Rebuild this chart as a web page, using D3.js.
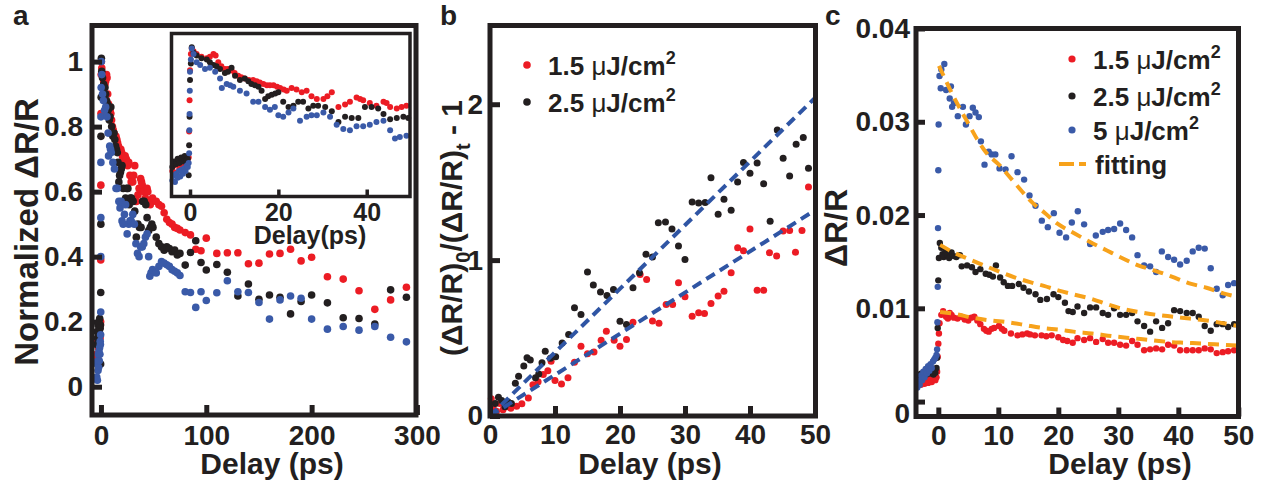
<!DOCTYPE html>
<html>
<head>
<meta charset="utf-8">
<script src="https://cdn.jsdelivr.net/npm/d3@7"></script>
<style>
  body { margin: 0; background: #fff; }
  svg text { font-family: "Liberation Sans", Arial, Helvetica, sans-serif; font-weight: bold; fill: #231f20; }
</style>
</head>
<body>
<svg id="chart" width="1263" height="485"></svg>
<script>
// ---- panel a : normalized dR/R vs delay (same data shown in the inset up to 50 ps)
const aRed = [[-4.0,0.1],[-3.6,0.14],[-3.2,0.09],[-2.8,0.15],[-2.4,0.12],[-2.0,0.17],[-1.6,0.13],[-1.2,0.18],[-0.8,0.15],[-0.5,0.19],[-0.3,0.2],
  [-0.2,0.39],[-0.1,0.62],[0.0,0.84],[0.2,0.96],
  [0.4,1.0],[0.8,0.98],[1.5,0.96],[2.6,0.94],[3.8,0.93],[4.5,0.94],[5.3,0.96],[5.8,0.95],[6.4,0.9],[7.1,0.87],[7.9,0.85],[8.6,0.85],[9.4,0.84],[10.1,0.82],
  [10.9,0.8],[11.6,0.79],[12.4,0.78],[13.3,0.77],[14.3,0.77],[15.1,0.76],[15.8,0.75],[16.6,0.74],[17.4,0.73],[18.1,0.73],[18.9,0.73],[19.7,0.72],[20.4,0.71],
  [21.2,0.7],[21.9,0.69],[23.0,0.71],[24.1,0.7],[25.3,0.68],[26.4,0.69],[27.5,0.65],[28.7,0.63],[30.2,0.63],[31.1,0.65],[32.1,0.68],[33.6,0.57],[35.1,0.59],
  [36.2,0.61],[37.7,0.64],[38.5,0.63],[39.2,0.62],[40.7,0.6],[42.2,0.58],[43.8,0.61],[44.5,0.6],[45.3,0.57],[46.8,0.56],[47.9,0.57],[49.0,0.58],
  [52.5,0.57],[55,0.56],[57.5,0.555],[60,0.535],[62.5,0.515],[65,0.505],[67.5,0.5],[70,0.49],[72.5,0.487],[75,0.482],[80,0.474],[85,0.467],[90,0.423],
  [95,0.418],[100,0.457],[110,0.41],[120,0.412],[130,0.412],[140,0.378],[150,0.38],[160,0.408],[170,0.41],[180,0.423],[190,0.387],[200,0.398],
  [215,0.338],[230,0.331],[245,0.295],[260,0.238],[275,0.267],[290,0.306]]
const aBlack = [[-4.0,0.13],[-3.6,0.17],[-3.2,0.15],[-2.8,0.19],[-2.4,0.16],[-2.0,0.2],[-1.6,0.17],[-1.2,0.21],[-0.8,0.18],[-0.5,0.19],[-0.3,0.07],
  [-0.2,0.29],[-0.1,0.5],[0.0,0.77],[0.2,0.89],
  [0.4,1.01],[0.8,0.97],[1.5,0.95],[2.6,0.93],[3.8,0.92],[4.5,0.9],[5.3,0.88],[6.0,0.87],[6.8,0.85],[7.9,0.82],[8.6,0.83],[9.4,0.86],[10.2,0.8],[11.3,0.77],
  [12.4,0.78],[13.2,0.76],[13.9,0.74],[14.7,0.73],[15.5,0.72],[16.2,0.69],[17.0,0.63],[17.7,0.65],[18.5,0.66],[19.3,0.67],[20.0,0.68],[21.1,0.61],[22.3,0.57],
  [23.4,0.58],[24.5,0.61],[25.6,0.61],[26.8,0.56],[27.9,0.58],[29.0,0.58],[30.6,0.57],[32.1,0.54],[33.6,0.46],[35.1,0.5],[36.6,0.49],[38.1,0.49],[39.6,0.57],
  [41.1,0.57],[42.6,0.56],[43.8,0.52],[45.3,0.48],[46.8,0.49],[48.3,0.5],[49.4,0.49],
  [52.5,0.46],[55,0.44],[57.5,0.43],[60,0.42],[62.5,0.43],[65,0.425],[67.5,0.415],[70,0.42],[72.5,0.405],[75,0.41],[80,0.374],[85,0.413],[90,0.449],
  [95,0.382],[100,0.359],[110,0.376],[120,0.352],[130,0.279],[140,0.316],[150,0.269],[160,0.282],[170,0.275],[180,0.224],[190,0.262],[200,0.282],
  [215,0.258],[230,0.212],[245,0.21],[260,0.193],[275,0.298],[290,0.275]]
const aBlue = [[-4.0,0.03],[-3.7,0.07],[-3.4,0.02],[-3.1,0.08],[-2.8,0.05],[-2.5,0.1],[-2.2,0.06],[-1.9,0.11],[-1.6,0.08],[-1.3,0.12],[-1.0,0.1],[-0.7,0.14],
  [-0.5,0.13],[-0.3,0.16],[-0.2,0.23],[-0.15,0.4],[-0.1,0.52],[-0.05,0.69],[0.0,0.83],[0.2,0.92],
  [0.4,1.0],[0.8,0.96],[1.5,0.9],[2.3,0.88],[3.4,0.85],[4.5,0.86],[5.7,0.83],[6.8,0.78],[7.2,0.71],[8.3,0.74],[9.1,0.73],[9.8,0.72],[11.3,0.69],[12.8,0.67],
  [14.3,0.61],[15.5,0.61],[17.0,0.57],[18.1,0.55],[19.2,0.57],[20.0,0.51],[21.1,0.5],[22.3,0.53],[23.4,0.56],[24.9,0.47],[26.4,0.5],[27.5,0.51],[28.7,0.51],
  [30.2,0.53],[31.7,0.5],[33.2,0.44],[34.7,0.41],[36.2,0.4],[37.7,0.43],[39.2,0.43],[40.7,0.44],[42.2,0.46],[43.8,0.47],[45.3,0.4],[46.4,0.34],[47.5,0.35],
  [49.0,0.36],
  [52.5,0.35],[55,0.37],[57.5,0.385],[60,0.38],[62.5,0.375],[65,0.37],[67.5,0.36],[70,0.355],[72.5,0.35],[75,0.342],[80,0.292],[85,0.29],[90,0.244],
  [95,0.292],[100,0.265],[110,0.289],[120,0.326],[130,0.292],[140,0.29],[150,0.259],[160,0.208],[170,0.267],[180,0.279],[190,0.272],[200,0.208],
  [215,0.177],[230,0.185],[245,0.174],[260,0.185],[275,0.152],[290,0.138]]
const aXTicks = [0, 100, 200, 300]
const aYTicks = [0, 0.2, 0.4, 0.6, 0.8, 1]
const insetXTicks = [0, 20, 40]

// ---- panel b : (dR/R)0/(dR/R)t - 1
const bRed = [[0.2,0.11],[0.5,0.05],[1.0,0.03],[1.5,0.08],[2.0,0.04],[2.6,0.06],[3.2,0.05],[4.1,0.062],[4.9,0.079],[5.9,0.116],[6.6,0.2],[7.4,0.22],
  [8.2,0.266],[8.9,0.29],[9.4,0.351],[10.0,0.227],[11.0,0.206],[12.0,0.245],[13.0,0.345],[14.0,0.448],[15.0,0.4],[16.0,0.41],[17.1,0.486],[17.9,0.544],
  [19.1,0.486],[20.0,0.448],[21.0,0.49],[22.0,0.602],[23.1,0.908],[24.1,0.876],[25.0,0.61],[26.0,0.595],[27.1,0.715],[28.1,0.715],[29.0,0.855],[30.0,0.765],
  [31.1,0.64],[32.1,0.662],[33.0,0.657],[34.0,0.722],[35.1,0.77],[36.0,0.8],[37.1,0.919],[38.1,1.08],[39.0,1.06],[40.0,1.2],[41.1,0.807],[42.1,0.807],
  [43.0,1.047],[44.1,1.026],[45.1,1.186],[46.1,1.19],[47.0,1.05],[48.0,1.19],[49.0,1.469]]
const bBlack = [[0.3,0.02],[0.8,0.08],[1.3,0.12],[1.8,0.1],[2.3,0.06],[2.8,0.09],[3.3,0.08],[3.9,0.21],[4.4,0.255],[5.2,0.32],[5.7,0.373],[6.2,0.36],
  [7.0,0.245],[7.5,0.27],[8.0,0.341],[8.5,0.416],[9.3,0.37],[10.1,0.38],[11.1,0.469],[12.1,0.523],[13.0,0.694],[14.0,0.651],[15.0,0.923],[15.9,0.84],
  [17.0,0.795],[18.0,0.773],[19.0,0.812],[20.0,0.608],[21.0,0.587],[22.0,0.823],[23.0,0.919],[24.0,1.037],[25.0,1.02],[25.9,1.24],[27.0,1.245],[28.0,1.2],
  [29.0,1.09],[30.0,1.004],[31.1,1.372],[32.1,1.366],[33.1,1.37],[34.0,1.529],[35.1,1.294],[36.0,1.39],[37.1,1.32],[38.1,1.501],[39.0,1.626],[40.0,1.557],
  [41.1,1.623],[42.1,1.49],[43.1,1.25],[44.2,1.835],[45.1,1.653],[46.1,1.54],[47.1,1.743],[48.2,1.787],[49.0,1.589]]
const bFitRed = [[0, 0], [50, 1.32]]
const bFitBlack = [[0, 0], [50, 2.04]]
const bXTicks = [0, 10, 20, 30, 40, 50]
const bYTicks = [0, 1, 2]

// ---- panel c : raw dR/R for three fluences, with fits
const cRed = [[-3.5,0.0017],[-3.2,0.002],[-2.9,0.0018],[-2.6,0.0022],[-2.3,0.0019],[-2.0,0.0023],[-1.7,0.002],[-1.4,0.0024],[-1.1,0.0021],[-0.8,0.0025],
  [-0.5,0.0023],[-0.3,0.0026],[-0.2,0.0032],[-0.1,0.0048],[0.0,0.0062],[0.1,0.0073],[0.2,0.0084],
  [0.5,0.0093],[0.8,0.0097],[1.0,0.0094],[1.3,0.0091],[1.6,0.0089],[1.9,0.0095],[2.2,0.0093],[2.6,0.009],[3.2,0.0089],[3.8,0.0091],[4.4,0.0088],[5.0,0.0087],
  [5.5,0.009],[6.0,0.0091],[6.5,0.0087],[7.0,0.0083],[7.6,0.0078],[8.0,0.0076],[8.4,0.0075],[8.9,0.0078],[9.3,0.0079],[10.1,0.0081],[10.6,0.0078],[11.0,0.0076],
  [12.1,0.0073],[13.2,0.0071],[14.0,0.0072],[14.8,0.0073],[15.3,0.0072],[16.1,0.0071],[17.2,0.0071],[18.0,0.007],[18.9,0.0071],[20.0,0.0069],[20.8,0.0066],
  [21.5,0.0065],[22.4,0.0063],[23.2,0.0068],[24.3,0.0066],[25.3,0.0068],[26.3,0.0064],[27.4,0.0067],[28.3,0.0063],[29.3,0.0063],[30.3,0.0061],[31.3,0.006],
  [32.3,0.0065],[33.2,0.0061],[34.3,0.0055],[35.3,0.0056],[36.3,0.0057],[37.3,0.0056],[38.3,0.0061],[39.3,0.006],[40.3,0.0055],[41.4,0.0055],[42.4,0.0055],
  [43.4,0.0055],[44.4,0.0057],[45.4,0.0056],[46.4,0.0052],[47.4,0.0053],[48.3,0.0054],[49.3,0.0055]]
const cBlack = [[-3.5,0.0022],[-3.2,0.0027],[-2.9,0.003],[-2.6,0.0026],[-2.3,0.0032],[-2.0,0.0029],[-1.7,0.0034],[-1.4,0.003],[-1.1,0.0033],[-0.8,0.0029],
  [-0.5,0.0031],[-0.3,0.0036],[-0.2,0.0047],[-0.1,0.0079],[0.0,0.013],[0.1,0.0154],[0.25,0.017],
  [0.5,0.0165],[0.7,0.0158],[0.9,0.0155],[1.2,0.0162],[1.5,0.0157],[1.8,0.0154],[2.2,0.016],[2.6,0.0156],[3.0,0.0155],[3.6,0.0157],[3.9,0.0145],[4.8,0.0146],
  [5.6,0.0144],[6.2,0.0139],[7.0,0.0142],[7.9,0.0137],[8.5,0.0136],[9.1,0.0134],[9.6,0.0146],[10.3,0.0133],[10.9,0.0128],[11.6,0.0124],[12.3,0.0124],
  [13.4,0.0126],[14.2,0.0122],[15.1,0.0118],[16.2,0.0115],[17.0,0.0109],[18.1,0.011],[19.2,0.0115],[20.0,0.0112],[21.1,0.0106],[21.7,0.0097],[22.4,0.0096],
  [23.2,0.0102],[24.3,0.0095],[25.3,0.0101],[26.3,0.0101],[27.4,0.0095],[28.3,0.0093],[29.3,0.01],[30.3,0.0093],[31.3,0.0093],[32.3,0.0095],[33.2,0.0086],
  [34.3,0.0081],[35.3,0.0075],[36.3,0.0086],[37.3,0.0079],[38.3,0.0084],[39.3,0.0098],[40.3,0.0097],[41.4,0.0095],[42.4,0.0095],[43.4,0.0091],[44.4,0.0081],
  [45.4,0.0076],[46.4,0.0083],[47.4,0.0083],[48.3,0.008],[49.3,0.0083]]
const cBlue = [[-3.5,0.0015],[-3.3,0.0022],[-3.1,0.0018],[-2.9,0.0028],[-2.7,0.0023],[-2.5,0.0032],[-2.3,0.0026],[-2.1,0.0035],[-1.9,0.003],[-1.7,0.0038],
  [-1.5,0.0033],[-1.3,0.004],[-1.1,0.0036],[-0.9,0.0043],[-0.7,0.0045],[-0.5,0.0047],[-0.3,0.005],
  [-0.2,0.0056],[-0.15,0.0085],[-0.1,0.0123],[-0.05,0.0186],[0.0,0.0248],[0.05,0.0297],
  [0.2,0.0349],[0.4,0.0336],[0.5,0.0356],[1.0,0.0362],[1.3,0.0334],[1.9,0.0325],[2.1,0.0338],[2.3,0.0316],[2.6,0.032],[3.25,0.0306],[4.1,0.0316],[4.6,0.0297],
  [5.2,0.0306],[5.75,0.0315],[6.2,0.031],[6.75,0.0305],[7.1,0.0279],[7.7,0.0254],[8.4,0.0268],[8.9,0.0265],[9.5,0.0265],[10.2,0.025],[11.2,0.0249],
  [12.2,0.0263],[13.2,0.0246],[14.3,0.0238],[15.2,0.0221],[16.2,0.021],[17.25,0.0194],[18.25,0.0187],[19.25,0.0202],[20.2,0.0181],[21.3,0.0176],
  [22.25,0.0192],[23.25,0.0204],[24.3,0.019],[25.3,0.0169],[26.25,0.0178],[27.4,0.0182],[28.3,0.0184],[29.3,0.0185],[30.3,0.0191],[31.3,0.0184],
  [32.3,0.0176],[33.2,0.0157],[34.3,0.0146],[35.3,0.0145],[36.3,0.0139],[37.25,0.0161],[38.3,0.0155],[39.3,0.0152],[40.3,0.0147],[41.4,0.0151],
  [42.4,0.0161],[43.4,0.0165],[44.4,0.0164],[45.4,0.0143],[46.4,0.0121],[47.4,0.0114],[48.3,0.0125],[49.3,0.0127]]
const cFitRed = [[0.3,0.0096],[2.8,0.0094],[5.6,0.009],[8.7,0.0087],[11.7,0.0085],[14.5,0.0082],[17.3,0.0079],[20.3,0.0077],[22.5,0.0075],[25.6,0.0073],
  [29.2,0.007],[32.2,0.0068],[35.3,0.0066],[38.3,0.0064],[41.4,0.0063],[44.4,0.0062],[47.2,0.0061],[50,0.006]]
const cFitBlack = [[0.3,0.0168],[2.5,0.016],[5,0.0153],[7.6,0.0146],[10.3,0.0139],[12.8,0.0133],[15.3,0.0128],[17.6,0.0124],[20.1,0.0119],[22.5,0.0115],
  [25.6,0.011],[28.3,0.0104],[31,0.0099],[33.5,0.0096],[36.4,0.0093],[39.2,0.0091],[41.9,0.0089],[44.7,0.0087],[47.5,0.0084],[50,0.0081]]
const cFitBlue = [[0.1,0.036],[0.9,0.0349],[2.3,0.033],[3.7,0.0313],[5.1,0.0297],[6.5,0.0281],[8.1,0.0266],[10.1,0.0254],[12,0.024],[14,0.0225],
  [15.9,0.0212],[17.8,0.0202],[19.8,0.0191],[22.5,0.0181],[25.3,0.0171],[28.1,0.0162],[30.6,0.0154],[33.3,0.0146],[35.8,0.0141],[38.9,0.0134],
  [41.7,0.0127],[44.7,0.0122],[47.5,0.0116],[50,0.0112]]
const cXTicks = [0, 10, 20, 30, 40, 50]
const cYTicks = [0, 0.01, 0.02, 0.03, 0.04]

const fluences = ['1.5', '2.5', '5']

const red = '#ec1c24', black = '#231f20', blue = '#3a5aa8', orange = '#f7a21b', dashBlue = '#2f55a4'
const svg = d3.select('#chart')

function dots(g, data, x, y, color, r) {
  g.append('g').selectAll('circle')
    .data(data)
    .enter()
    .append('circle')
    .attr('cx', d => x(d[0]))
    .attr('cy', d => y(d[1]))
    .attr('r', r)
    .attr('fill', color)
}

function fixAxis(g, fs, sw) {
  g.attr('font-family', null).attr('font-size', fs)
  g.select('.domain').remove()
  g.selectAll('.tick line').attr('stroke', black).attr('stroke-width', sw)
  g.selectAll('.tick text').attr('fill', black)
}

function frame(g, x, y, sw) {
  g.append('rect')
    .attr('x', x.range()[0]).attr('y', y.range()[1])
    .attr('width', x.range()[1] - x.range()[0])
    .attr('height', y.range()[0] - y.range()[1])
    .attr('fill', 'none').attr('stroke', black).attr('stroke-width', sw)
}

function fluenceText(g, x, y, f) {
  const t = g.append('text').attr('x', x).attr('y', y).attr('font-size', 26)
  t.append('tspan').text(f + ' ')
  t.append('tspan').attr('font-weight', 'normal').text('\u03bc')
  t.append('tspan').text('J/cm')
  t.append('tspan').attr('dy', -11).attr('font-size', 18).text('2')
}

// ================= panel a
const xa = d3.scaleLinear().domain([-8.5, 299.1]).range([92, 416])
const ya = d3.scaleLinear().domain([-0.087, 1.111]).range([415, 25.5])
const ga = svg.append('g')
dots(ga, aRed, xa, ya, red, 3.8)
dots(ga, aBlack, xa, ya, black, 3.8)
dots(ga, aBlue, xa, ya, blue, 3.8)

ga.append('g').attr('transform', 'translate(0,415)')
  .call(d3.axisBottom(xa).tickValues(aXTicks).tickSize(-10).tickPadding(10).tickFormat(d => d))
  .call(g => fixAxis(g, 28, 5))
ga.append('g').attr('transform', 'translate(92,0)')
  .call(d3.axisLeft(ya).tickValues(aYTicks).tickSize(-10).tickPadding(9).tickFormat(d => d))
  .call(g => fixAxis(g, 28, 5))

// inset
const xi = d3.scaleLinear().domain([-4.19, 49.8]).range([171.5, 410])
const yi = d3.scaleLinear().domain([-0.087, 1.111]).range([196.5, 33.5])
const gi = ga.append('g')
gi.append('rect').attr('x', 171.5).attr('y', 33.5).attr('width', 238.5).attr('height', 163).attr('fill', '#fff')
dots(gi, aRed.filter(d => d[0] <= 50), xi, yi, red, 3)
dots(gi, aBlack.filter(d => d[0] <= 50), xi, yi, black, 3)
dots(gi, aBlue.filter(d => d[0] <= 50), xi, yi, blue, 3)
gi.append('g').attr('transform', 'translate(0,196.5)')
  .call(d3.axisBottom(xi).tickValues(insetXTicks).tickSize(-7).tickPadding(7).tickFormat(d => d))
  .call(g => fixAxis(g, 25, 3.5))
frame(gi, xi, yi, 3.5)
gi.append('text').attr('x', 310).attr('y', 244).attr('text-anchor', 'middle').attr('font-size', 25).text('Delay(ps)')

frame(ga, xa, ya, 5)
ga.append('text').attr('x', 272).attr('y', 474).attr('text-anchor', 'middle').attr('font-size', 30).text('Delay (ps)')
ga.append('text').attr('transform', 'translate(38,232) rotate(-90)').attr('text-anchor', 'middle')
  .attr('font-size', 33).text('Normalized \u0394R/R')
ga.append('text').attr('x', 13).attr('y', 25).attr('font-size', 28).text('a')

// ================= panel b
const xb = d3.scaleLinear().domain([0, 50.08]).range([490, 815.5])
const yb = d3.scaleLinear().domain([0, 2.505]).range([416, 25.5])
const gb = svg.append('g')
const line = d3.line().x(d => xb(d[0])).y(d => yb(d[1]))
dots(gb, bRed, xb, yb, red, 3.5)
dots(gb, bBlack, xb, yb, black, 3.5)
;[bFitRed, bFitBlack].forEach(f => {
  gb.append('path').attr('d', line(f)).attr('fill', 'none').attr('stroke', dashBlue)
    .attr('stroke-width', 4).attr('stroke-dasharray', '10,6')
})
gb.append('g').attr('transform', 'translate(0,416)')
  .call(d3.axisBottom(xb).tickValues(bXTicks).tickSize(-10).tickPadding(8).tickFormat(d => d))
  .call(g => fixAxis(g, 28, 5))
gb.append('g').attr('transform', 'translate(490,0)')
  .call(d3.axisLeft(yb).tickValues(bYTicks).tickSize(-10).tickPadding(7).tickFormat(d => d))
  .call(g => fixAxis(g, 28, 5))
frame(gb, xb, yb, 5)

;[red, black].forEach((c, i) => {
  gb.append('circle').attr('cx', 527).attr('cy', 65 + i * 37).attr('r', 3.8).attr('fill', c)
  fluenceText(gb, 548, 74.5 + i * 37, fluences[i])
})
gb.append('text').attr('x', 650).attr('y', 474).attr('text-anchor', 'middle').attr('font-size', 30).text('Delay (ps)')
const yl = gb.append('text').attr('transform', 'translate(462,228) rotate(-90)').attr('text-anchor', 'middle').attr('font-size', 30)
yl.append('tspan').text('(\u0394R/R)')
yl.append('tspan').attr('dy', 8).attr('font-size', 20).text('0')
yl.append('tspan').attr('dy', -8).text('/(\u0394R/R)')
yl.append('tspan').attr('dy', 8).attr('font-size', 20).text('t')
yl.append('tspan').attr('dy', -8).text(' - 1')
gb.append('text').attr('x', 440).attr('y', 25).attr('font-size', 28).text('b')

// ================= panel c
const xc = d3.scaleLinear().domain([-3.72, 50.03]).range([916, 1238.5])
const yc = d3.scaleLinear().domain([-0.0016, 0.04]).range([416.5, 28.5])
const gc = svg.append('g')
dots(gc, cRed, xc, yc, red, 3.2)
dots(gc, cBlack, xc, yc, black, 3.2)
dots(gc, cBlue, xc, yc, blue, 3.2)
const cline = d3.line().x(d => xc(d[0])).y(d => yc(d[1])).curve(d3.curveMonotoneX)
;[cFitRed, cFitBlack, cFitBlue].forEach(f => {
  gc.append('path').attr('d', cline(f)).attr('fill', 'none').attr('stroke', orange)
    .attr('stroke-width', 4).attr('stroke-dasharray', '11,7')
})
gc.append('g').attr('transform', 'translate(0,416.5)')
  .call(d3.axisBottom(xc).tickValues(cXTicks).tickSize(-9).tickPadding(9).tickFormat(d => d))
  .call(g => fixAxis(g, 28, 5))
gc.append('g').attr('transform', 'translate(916,0)')
  .call(d3.axisLeft(yc).tickValues(cYTicks).tickSize(-9).tickPadding(6).tickFormat(d => d))
  .call(g => fixAxis(g, 28, 5))
  .call(g => g.selectAll('.tick').filter(d => d === 0).select('text').attr('transform', 'translate(0,12)'))
frame(gc, xc, yc, 5)

;[red, black, blue].forEach((c, i) => {
  const cy = [59, 96, 130][i]
  gc.append('circle').attr('cx', 1072).attr('cy', cy).attr('r', 3.6).attr('fill', c)
  fluenceText(gc, 1093, cy + 9.5, fluences[i])
})
gc.append('line').attr('x1', 1059).attr('x2', 1086).attr('y1', 164).attr('y2', 164)
  .attr('stroke', orange).attr('stroke-width', 4).attr('stroke-dasharray', '15,5')
gc.append('text').attr('x', 1095).attr('y', 173.5).attr('font-size', 26).text('fitting')
gc.append('text').attr('x', 1120).attr('y', 474).attr('text-anchor', 'middle').attr('font-size', 30).text('Delay (ps)')
gc.append('text').attr('transform', 'translate(847,228) rotate(-90)').attr('text-anchor', 'middle')
  .attr('font-size', 32).text('\u0394R/R')
gc.append('text').attr('x', 825).attr('y', 25).attr('font-size', 28).text('c')
</script>
</body>
</html>
